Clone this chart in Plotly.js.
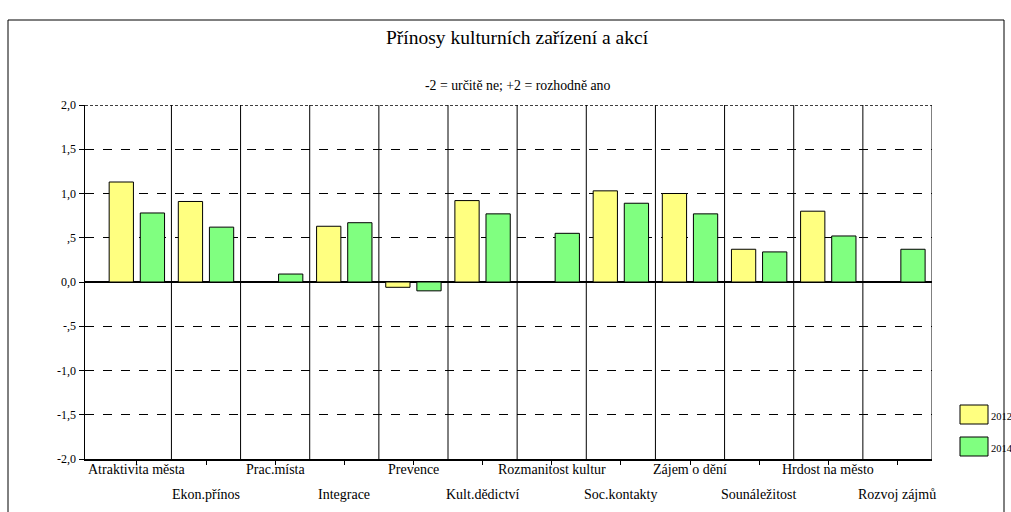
<!DOCTYPE html>
<html>
<head>
<meta charset="utf-8">
<script src="https://cdn.plot.ly/plotly-3.0.1.min.js"></script>
<style>html,body{margin:0;padding:0;background:#fff;}#chart{width:1011px;height:512px;}</style>
</head>
<body>
<div id="chart"></div>
<script>
const categories = ["Atraktivita města","Ekon.přínos","Prac.místa","Integrace","Prevence","Kult.dědictví","Rozmanitost kultur","Soc.kontakty","Zájem o dění","Sounáležitost","Hrdost na město","Rozvoj zájmů"];
const values2012 = [1.13, 0.91, null, 0.63, -0.06, 0.92, null, 1.03, 1.00, 0.37, 0.80, null];
const values2014 = [0.78, 0.62, 0.09, 0.67, -0.10, 0.77, 0.55, 0.89, 0.77, 0.34, 0.52, 0.37];
const seriesNames = ["2012", "2014"];
const yTickVals = [2, 1.5, 1, 0.5, 0, -0.5, -1, -1.5, -2];
const yTickText = ["2,0", "1,5", "1,0", ",5", "0,0", "-,5", "-1,0", "-1,5", "-2,0"];
const colors = ["#FFFF80", "#80FF80"];

const W = 1011, H = 512;
const L = 85, R = 932, T = 105, B = 459;
const px = x => (x - L) / (R - L);
const py = y => (B - y) / (B - T);
const font = "Liberation Serif";

const idx = categories.map((c, i) => i);
const traces = [values2012, values2014].map((vals, k) => ({
  type: "bar",
  x: idx,
  y: vals,
  name: seriesNames[k],
  marker: {color: colors[k], line: {color: "#000", width: 1}},
  hoverinfo: "y"
}));

const shapes = [];
for (let i = 0; i < categories.length; i++) {
  shapes.push({type: "line", xref: "x", yref: "y", x0: i + 0.5, x1: i + 0.5, y0: -2, y1: 2,
    line: {color: "#000", width: 1}});
}
shapes.push({type: "line", xref: "x", yref: "y", x0: -0.75, x1: 11.5, y0: 2, y1: 2,
  line: {color: "#000", width: 1.5, dash: "3px,2px"}});
shapes.push({type: "rect", xref: "paper", yref: "paper", x0: px(8), x1: px(1004), y0: py(20), y1: py(530),
  line: {color: "#000", width: 1}, layer: "below"});
const annotations = [];
seriesNames.forEach((n, k) => {
  const top = 405 + k * 32;
  shapes.push({type: "rect", xref: "paper", yref: "paper", x0: px(960), x1: px(988), y0: py(top + 19), y1: py(top),
    fillcolor: colors[k], line: {color: "#000", width: 1}});
  annotations.push({xref: "paper", yref: "paper", x: px(988.5), y: py(top + 11), text: n, showarrow: false,
    xanchor: "left", yanchor: "middle", font: {family: font, size: 10.5, color: "#000"}});
});
categories.forEach((c, i) => {
  annotations.push({xref: "x", yref: "paper", x: i, y: 0, text: c, showarrow: false,
    xanchor: "center", yanchor: "middle", yshift: (i % 2 === 0) ? -10 : -35,
    font: {family: font, size: 14, color: "#000"}});
});
annotations.push({xref: "paper", yref: "paper", x: px(517), y: py(38), text: "Přínosy kulturních zařízení a akcí",
  showarrow: false, xanchor: "center", yanchor: "middle", font: {family: font, size: 19.5, color: "#000"}});
annotations.push({xref: "paper", yref: "paper", x: px(517), y: py(85), text: "-2 = určitě ne; +2 = rozhodně ano",
  showarrow: false, xanchor: "center", yanchor: "middle", font: {family: font, size: 13.8, color: "#000"}});

const layout = {
  width: W, height: H,
  margin: {l: L, r: W - R, t: T, b: H - B, pad: 0},
  paper_bgcolor: "#fff", plot_bgcolor: "#fff",
  showlegend: false,
  barmode: "group",
  bargap: 0.1,
  bargroupgap: 0.22,
  xaxis: {
    range: [-0.75, 11.5], tickvals: idx, ticktext: idx.map(() => ""),
    ticks: "outside", ticklen: 4, tickcolor: "#000", tickwidth: 1,
    showgrid: false, zeroline: false,
    showline: true, linecolor: "#000", linewidth: 2, fixedrange: true
  },
  yaxis: {
    range: [-2, 2], tickvals: yTickVals, ticktext: yTickText,
    ticks: "outside", ticklen: 5, tickcolor: "#000", tickwidth: 1,
    showgrid: true, gridcolor: "#000", griddash: "dash", gridwidth: 1,
    zeroline: true, zerolinecolor: "#000", zerolinewidth: 2,
    showline: true, linecolor: "#000", linewidth: 1.5,
    tickfont: {family: font, size: 12, color: "#000"}, fixedrange: true
  },
  shapes: shapes,
  annotations: annotations,
  font: {family: font, color: "#000"}
};
Plotly.newPlot("chart", traces, layout, {displayModeBar: false, staticPlot: true});
</script>
</body>
</html>
